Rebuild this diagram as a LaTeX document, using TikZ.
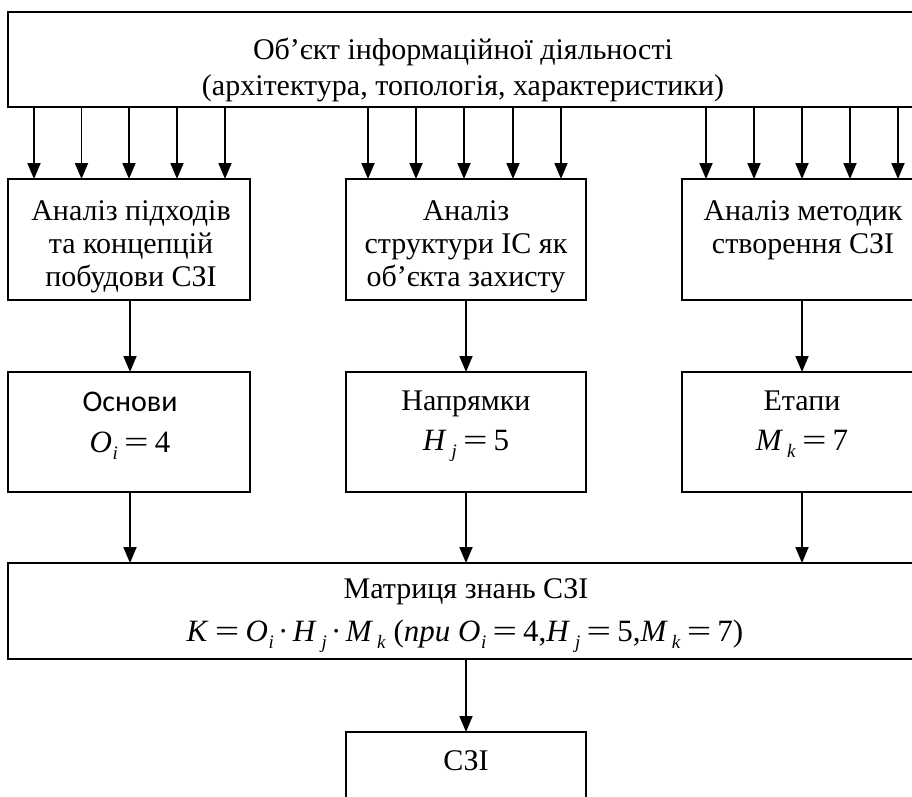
\documentclass[tikz,border=0pt]{standalone}
\usepackage{graphicx}
\usepackage{fontspec}
\setmainfont{Liberation Serif}
\newfontfamily\calibfont{Carlito}
\usetikzlibrary{arrows.meta}
\newcommand\mysub[1]{\raisebox{-7pt}{\fontsize{19}{19}\selectfont\textit{#1}}}
\newcommand\myeq{\hspace{0.2em}\scalebox{1.4}[1]{=}\hspace{0.2em}}
\newcommand\mydot{\hspace{0.14em}·\hspace{0.14em}}
\newcommand\vO{\textit{O}\kern0.5pt\mysub{i}}
\newcommand\vH{\textit{H}\kern5pt\mysub{j}}
\newcommand\vM{\textit{M}\kern4pt\mysub{k}}
\begin{document}
\begin{tikzpicture}[x=1pt,y=-1pt,
  box/.style={draw, line width=1.8pt, inner sep=0pt, outer sep=0pt, anchor=north west},
  arr/.style={line width=1.8pt, -{Triangle[length=16pt,width=13pt]}},
  txt/.style={anchor=base, inner sep=0pt, font=\fontsize{30}{33}\selectfont},
  mth/.style={anchor=base, inner sep=0pt, font=\fontsize{31}{33}\selectfont}]
\clip (0,0) rectangle (912,796);
\fill[white] (0,0) rectangle (912,796);
% boxes
\node[box, minimum width=915pt, minimum height=95pt] (obj) at (8,12) {};
\node[box, minimum width=242pt, minimum height=121pt] (b1) at (8,179) {};
\node[box, minimum width=240pt, minimum height=121pt] (b2) at (346,179) {};
\node[box, minimum width=240pt, minimum height=121pt] (b3) at (682,179) {};
\node[box, minimum width=242pt, minimum height=120pt] (c1) at (8,372) {};
\node[box, minimum width=240pt, minimum height=120pt] (c2) at (346,372) {};
\node[box, minimum width=240pt, minimum height=120pt] (c3) at (682,372) {};
\node[box, minimum width=915pt, minimum height=96pt] (mat) at (8,563) {};
\node[box, minimum width=240pt, minimum height=100pt] (szi) at (346,732) {};
% texts
\node[txt] (t0a) at (463,59) {Об’єкт інформаційної діяльності};
\node[txt] (t0b) at (463,95) {(архітектура, топологія, характеристики)};
\node[txt] (t1a) at (131,220) {Аналіз підходів};
\node[txt] (t1b) at (131,253) {та концепцій};
\node[txt] (t1c) at (131,286) {побудови СЗІ};
\node[txt] (t2a) at (466,220) {Аналіз};
\node[txt] (t2b) at (466,253) {структури ІС як};
\node[txt] (t2c) at (466,286) {об’єкта захисту};
\node[txt] (t3a) at (803,220) {Аналіз методик};
\node[txt] (t3b) at (803,253) {створення СЗІ};
\node[txt, font=\calibfont\fontsize{30}{33}\selectfont] (u1a) at (130,411) {Основи};
\node[mth] (u1b) at (130,452) {\vO\myeq 4};
\node[txt] (u2a) at (466,410) {Напрямки};
\node[mth] (u2b) at (466,450) {\vH\myeq 5};
\node[txt] (u3a) at (802,410) {Етапи};
\node[mth] (u3b) at (802,450) {\vM\myeq 7};
\node[txt] (ma) at (466,598) {Матриця знань СЗІ};
\node[mth] (mb) at (465,641) {\textit{K}\myeq\vO\mydot\vH\mydot\vM\ (\textit{при} \vO\myeq 4,\vH\myeq 5,\vM\myeq 7)};
\node[txt] (sa) at (466,770) {СЗІ};
% arrow columns
\foreach \x [count=\i] in {34,81.5,129,177,225,368,416,464,513,561,706,754,802,850,898}
  \coordinate (ax\i) at (\x,0);
\foreach \i in {1,...,5} \draw[arr] (obj.south -| ax\i) -- (b1.north -| ax\i);
\foreach \i in {6,...,10} \draw[arr] (obj.south -| ax\i) -- (b2.north -| ax\i);
\foreach \i in {11,...,15} \draw[arr] (obj.south -| ax\i) -- (b3.north -| ax\i);
\coordinate (k1) at (130,0);
\coordinate (k2) at (466,0);
\coordinate (k3) at (802,0);
\draw[arr] (b1.south -| k1) -- (c1.north -| k1);
\draw[arr] (b2.south -| k2) -- (c2.north -| k2);
\draw[arr] (b3.south -| k3) -- (c3.north -| k3);
\draw[arr] (c1.south -| k1) -- (mat.north -| k1);
\draw[arr] (c2.south -| k2) -- (mat.north -| k2);
\draw[arr] (c3.south -| k3) -- (mat.north -| k3);
\draw[arr] (mat.south -| k2) -- (szi.north);
\end{tikzpicture}
\end{document}
